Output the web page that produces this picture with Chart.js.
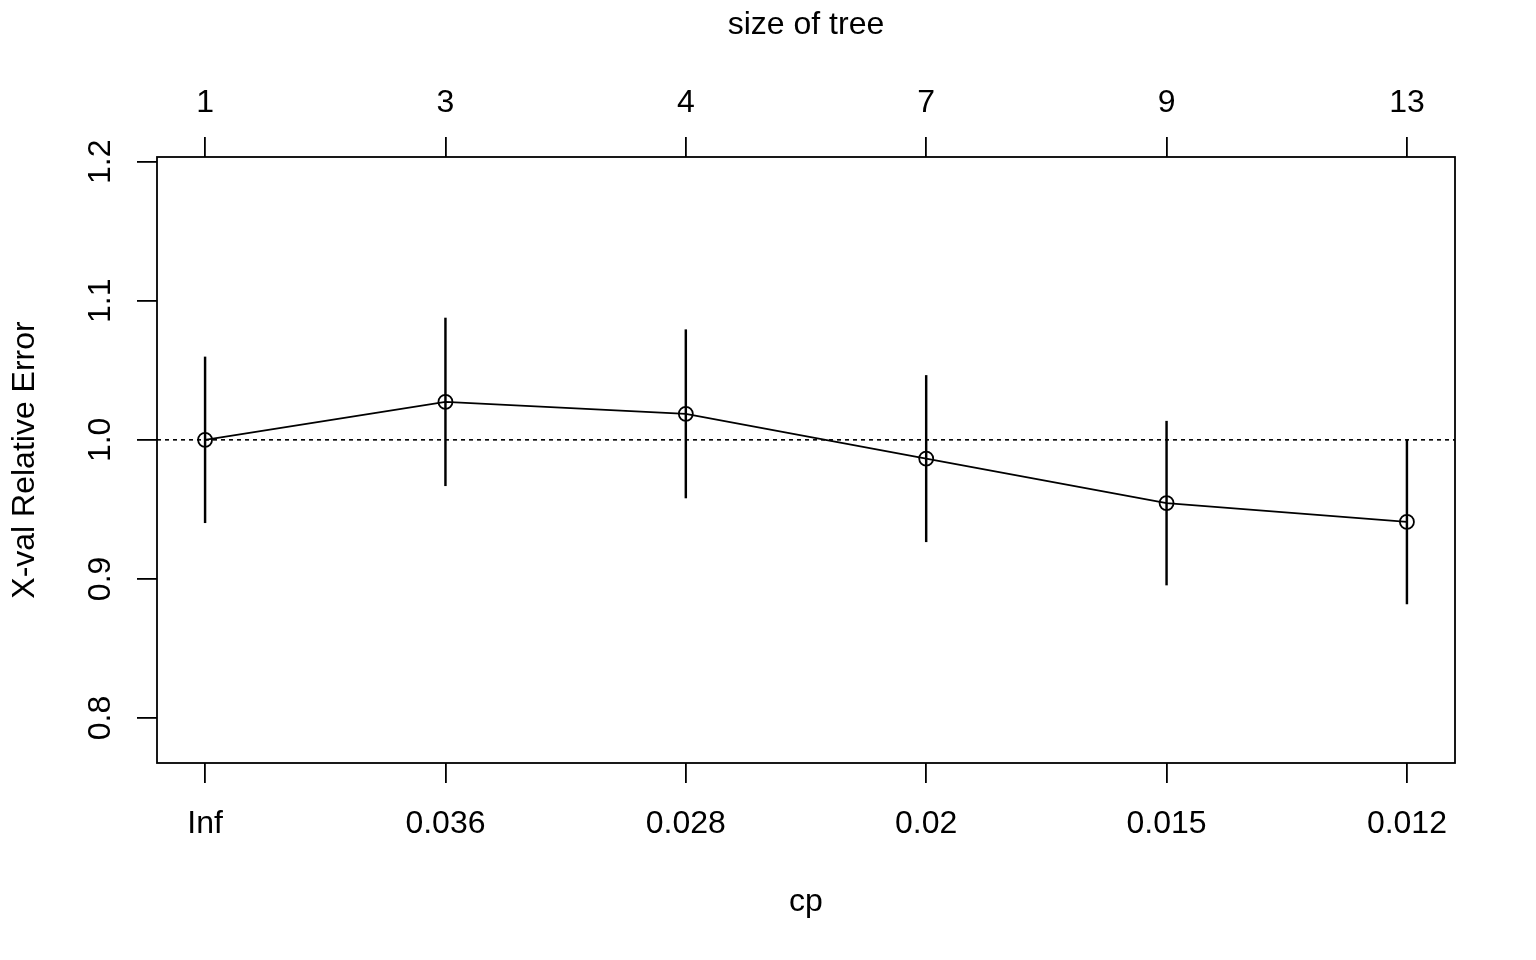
<!DOCTYPE html>
<html>
<head>
<meta charset="utf-8">
<script src="https://cdn.jsdelivr.net/npm/chart.js@4"></script>
<style>
  html, body { margin: 0; background: #fff; }
  canvas { display: block; }
</style>
</head>
<body>
<canvas id="chart" width="1536" height="960"></canvas>
<script>
// cp table values
const cpLabels = ["Inf", "0.036", "0.028", "0.02", "0.015", "0.012"];
const treeSizes = ["1", "3", "4", "7", "9", "13"];
const xerror = [1.0, 1.0273, 1.0187, 0.9865, 0.9545, 0.941];
const xstd = [0.0596, 0.0603, 0.0605, 0.0598, 0.0589, 0.059];
const yTicks = [0.8, 0.9, 1.0, 1.1, 1.2];

const FONT = "'Liberation Sans', Arial, Helvetica, sans-serif";
const fontSpec = { family: FONT, size: 32 };

// dotted reference: upper bar of the point with the lowest error
const minIdx = xerror.indexOf(Math.min(...xerror));
const refLevel = xerror[minIdx] + xstd[minIdx];

const idx = cpLabels.map((_, i) => i);

document.addEventListener("DOMContentLoaded", function () {

    const ctx = document.getElementById("chart").getContext("2d");

    // box round the plot, dotted line, rotated y labels
    const framePlugin = {
        id: "frame",
        beforeDatasetsDraw(chart) {
            const c = chart.ctx, a = chart.chartArea;
            const y = chart.scales.y.getPixelForValue(refLevel);
            c.save();
            c.strokeStyle = "#000";
            c.lineWidth = 1.6;
            c.setLineDash([4, 4]);
            c.beginPath();
            c.moveTo(a.left, y);
            c.lineTo(a.right, y);
            c.stroke();
            c.restore();
        },
        afterDraw(chart) {
            const c = chart.ctx, a = chart.chartArea;
            const ys = chart.scales.y;
            c.save();
            c.strokeStyle = "#000";
            c.lineWidth = 1.8;
            c.strokeRect(a.left, a.top, a.right - a.left, a.bottom - a.top);
            c.fillStyle = "#000";
            c.font = "32px " + FONT;
            c.textAlign = "center";
            c.textBaseline = "middle";
            ys.ticks.forEach(t => {
                c.save();
                c.translate(ys.right - 56, ys.getPixelForValue(t.value));
                c.rotate(-Math.PI / 2);
                c.fillText(t.value.toFixed(1), 0, 0);
                c.restore();
            });
            c.restore();
        }
    };

    const tickGrid = {
        display: true,
        offset: false,
        drawOnChartArea: false,
        drawTicks: true,
        tickLength: 20,
        color: "#000",
        lineWidth: 1.8
    };

    new Chart(ctx, {
        data: {
            datasets: [{
                type: "line",
                label: "X-val Relative Error",
                data: idx.map(i => ({ x: i, y: xerror[i] })),
                borderColor: "#000",
                borderWidth: 1.8,
                pointStyle: "circle",
                pointRadius: 7,
                pointBorderWidth: 1.8,
                pointBorderColor: "#000",
                pointBackgroundColor: "rgba(0,0,0,0)",
                tension: 0
            }, {
                type: "bar",
                label: "xstd",
                data: idx.map(i => ({ x: i, y: [xerror[i] - xstd[i], xerror[i] + xstd[i]] })),
                backgroundColor: "#000",
                borderWidth: 0,
                barThickness: 1.8
            }]
        },
        options: {
            responsive: false,
            animation: false,
            devicePixelRatio: 1,
            layout: { padding: { left: 0, top: 0, right: 81, bottom: 0 } },
            plugins: {
                legend: { display: false },
                tooltip: { enabled: false }
            },
            scales: {
                x: {
                    type: "linear",
                    position: "bottom",
                    offset: false,
                    min: -0.2,
                    max: 5.2,
                    afterBuildTicks: s => { s.ticks = idx.map(v => ({ value: v })); },
                    afterFit: s => { s.height = 197; },
                    grid: tickGrid,
                    border: { display: false },
                    ticks: {
                        callback: v => cpLabels[v],
                        color: "#000",
                        font: fontSpec,
                        padding: 22,
                        maxRotation: 0
                    },
                    title: {
                        display: true,
                        text: "cp",
                        color: "#000",
                        font: fontSpec,
                        padding: { top: 0, bottom: 39 }
                    }
                },
                xTop: {
                    type: "linear",
                    axis: "x",
                    position: "top",
                    offset: false,
                    min: -0.2,
                    max: 5.2,
                    afterBuildTicks: s => { s.ticks = idx.map(v => ({ value: v })); },
                    afterFit: s => { s.height = 157; },
                    grid: tickGrid,
                    border: { display: false },
                    ticks: {
                        callback: v => treeSizes[v],
                        color: "#000",
                        font: fontSpec,
                        padding: 15,
                        maxRotation: 0
                    },
                    title: {
                        display: true,
                        text: "size of tree",
                        color: "#000",
                        font: fontSpec,
                        padding: { top: 6, bottom: 0 }
                    }
                },
                y: {
                    type: "linear",
                    min: 0.7676,
                    max: 1.2034,
                    afterBuildTicks: s => { s.ticks = yTicks.map(v => ({ value: v })); },
                    afterFit: s => { s.width = 157; },
                    grid: tickGrid,
                    border: { display: false },
                    ticks: { display: false },
                    title: {
                        display: true,
                        text: "X-val Relative Error",
                        color: "#000",
                        font: fontSpec,
                        padding: { top: 6, bottom: 0 }
                    }
                }
            }
        },
        plugins: [framePlugin]
    });

});
</script>
</body>
</html>
